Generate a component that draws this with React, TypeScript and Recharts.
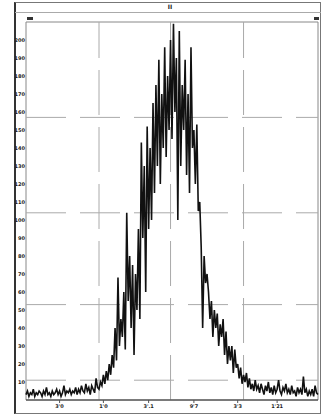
import React from "react";
import { LineChart, Line, XAxis, YAxis, ReferenceLine, ReferenceArea } from "recharts";

const signal: number[] = [
  3, 5, 2, 4, 3, 6, 2, 4, 3, 5,
  4, 2, 5, 3, 7, 3, 4, 2, 5, 3,
  4, 6, 3, 5, 2, 4, 8, 3, 5, 4,
  6, 3, 5, 4, 7, 3, 6, 4, 8, 5,
  4, 9, 5, 7, 3, 8, 6, 4, 12, 7,
  6, 10, 8, 14, 9, 16, 11, 20, 14, 25,
  18, 40, 22, 68, 30, 45, 35, 60, 28, 104,
  55, 80, 40, 75, 25, 70, 50, 95, 45, 143,
  90, 130, 60, 152, 95, 140, 100, 165, 115, 175,
  130, 189, 120, 170, 140, 196, 135, 180, 150, 200,
  145, 209, 160, 190, 100, 205, 130, 175, 150, 189,
  125, 170, 115, 196, 140, 150, 120, 153, 105, 110,
  85, 40, 80, 65, 70, 60, 45, 55, 35, 50,
  40, 48, 30, 42, 35, 45, 25, 38, 20, 30,
  22, 30, 15, 28, 18, 20, 12, 18, 9, 14,
  10, 15, 7, 12, 6, 9, 5, 11, 6, 8,
  4, 9, 6, 3, 8, 5, 10, 4, 7, 3,
  8, 4, 6, 11, 5, 3, 7, 5, 9, 4,
  6, 3, 8, 4, 5, 2, 7, 4, 6, 3,
  13, 4, 6, 2, 5, 3, 6, 2, 8, 4, 3,
];

const xTickValues: number[] = [23, 53, 84, 115, 145, 172];
const xTickLabels: string[] = ["3'0", "1'0", "3'.1", "9'7", "3'3", "1'21"];
const yTickValues: number[] = [10, 20, 30, 40, 50, 60, 70, 80, 90, 100, 110, 120, 130, 140, 150, 160, 170, 180, 190, 200];
const vGrid: number[] = [50, 99, 149];
const hGrid: number[] = [11, 53, 104, 157];
const title = "II";

const data = signal.map((v, i) => ({ x: i, v }));

const tickStyle = { fontSize: 5, fill: "#222", fontFamily: "DejaVu Sans", fontWeight: 700 };

export default function App() {
  return (
    <div style={{ position: "fixed", left: 0, top: 0, width: 323, height: 418, background: "#fff" }}>
      <div style={{ position: "absolute", left: 14, top: 2, width: 307, height: 412, border: "1px solid #777", borderLeft: "2px solid #333", boxSizing: "border-box" }} />
      <div style={{ position: "absolute", left: 15, top: 12, width: 306, height: 0, borderTop: "1px solid #aaa" }} />
      <div style={{ position: "absolute", left: 0, top: 2, width: 340, textAlign: "center", fontSize: 6, fontWeight: 700, fontFamily: "DejaVu Sans", color: "#222", lineHeight: "10px" }}>{title}</div>
      <div style={{ position: "absolute", left: 27, top: 17, width: 6, height: 3, background: "#333" }} />
      <div style={{ position: "absolute", left: 314, top: 17, width: 5, height: 3, background: "#333" }} />
      <div style={{ position: "absolute", left: 0, top: 0 }}>
        <LineChart width={323} height={418} data={data} margin={{ top: 22, right: 5, bottom: 6, left: 14 }}>
          <XAxis
            dataKey="x"
            type="number"
            domain={[0, 200]}
            ticks={xTickValues}
            tickFormatter={(v: number) => xTickLabels[xTickValues.indexOf(v)] ?? ""}
            height={12}
            tick={tickStyle}
            tickSize={3}
            tickMargin={1}
            axisLine={{ stroke: "#333" }}
            tickLine={{ stroke: "#555" }}
            interval={0}
          />
          <YAxis
            type="number"
            domain={[0, 210]}
            ticks={yTickValues}
            width={12}
            tick={tickStyle}
            tickSize={0}
            tickMargin={1}
            axisLine={false}
            tickLine={false}
            interval={0}
          />
          <ReferenceArea x1={0} x2={200} y1={0} y2={210} fill="none" stroke="#888" strokeWidth={1} ifOverflow="visible" />
          {vGrid.map((g) => (
            <ReferenceLine key={"v" + g} x={g} stroke="#aaa" strokeWidth={1} strokeDasharray="45 12" />
          ))}
          {hGrid.map((g) => (
            <ReferenceLine key={"h" + g} y={g} stroke="#aaa" strokeWidth={1} strokeDasharray="40 14" />
          ))}
          <Line dataKey="v" type="linear" stroke="#111" strokeWidth={1.6} dot={false} isAnimationActive={false} />
        </LineChart>
      </div>
    </div>
  );
}
